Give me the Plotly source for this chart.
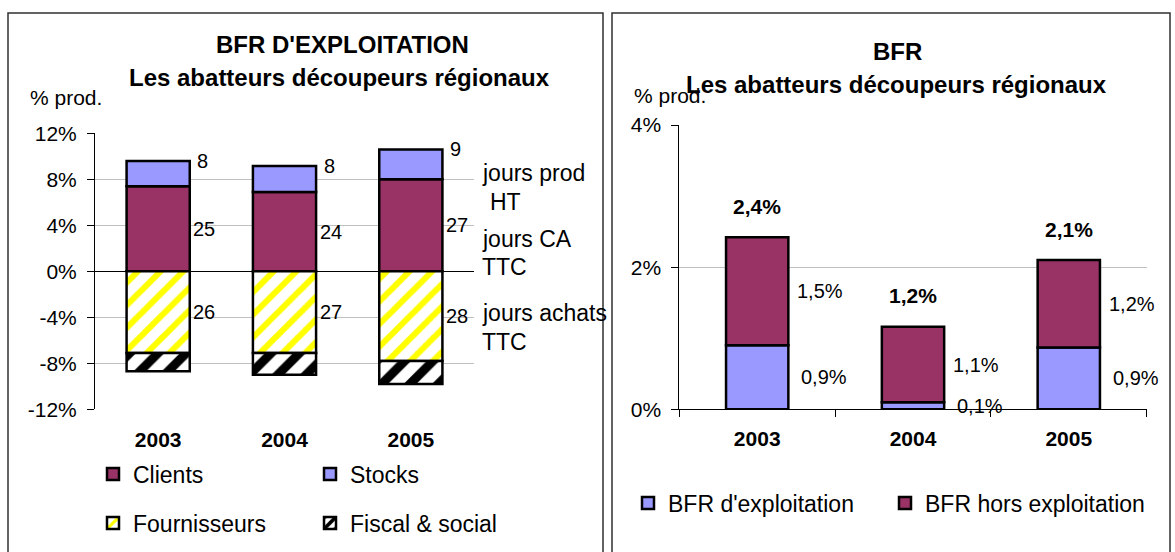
import plotly.graph_objects as go

# ---------------- data ----------------
years = ["2003", "2004", "2005"]

# Left chart: BFR d'exploitation (% of production)
clients = [7.4, 6.9, 8.0]
stocks = [2.2, 2.25, 2.6]
fournisseurs = [-7.1, -7.1, -7.8]
fiscal_social = [-1.6, -1.9, -2.0]

# days labels
jours_stocks = [8, 8, 9]
jours_clients = [25, 24, 27]
jours_fournisseurs = [26, 27, 28]

left_tickvals = [12, 8, 4, 0, -4, -8, -12]
left_ticktext = ["12%", "8%", "4%", "0%", "-4%", "-8%", "-12%"]

# Right chart: BFR (% of production)
bfr_exploitation = [0.9, 0.1, 0.87]
bfr_hors_exploitation = [1.52, 1.06, 1.23]

right_tickvals = [0, 2, 4]
right_ticktext = ["0%", "2%", "4%"]

side_labels = ["jours prod", "HT", "jours CA", "TTC", "jours achats", "TTC"]

# ---------------- style ----------------
W, H = 1175, 552
FONT = "Arial, 'Liberation Sans', sans-serif"
PLUM = "#993366"
LAV = "#9999FF"
YEL = "#FFFF00"
OUT = dict(color="black", width=2.5)
GRID = "#c0c0c0"


def px(x):
    return x / W


def py(y):
    return 1 - y / H


def fmt(v):
    return f"{v:.1f}".replace(".", ",") + "%"


fig = go.Figure()

# ---- left chart bars ----
fig.add_trace(go.Bar(x=years, y=clients, name="Clients", width=0.5,
                     marker=dict(color=PLUM, line=OUT),
                     xaxis="x", yaxis="y", legend="legend"))
fig.add_trace(go.Bar(x=years, y=stocks, name="Stocks", width=0.5,
                     marker=dict(color=LAV, line=OUT),
                     xaxis="x", yaxis="y", legend="legend2"))
fig.add_trace(go.Bar(x=years, y=fournisseurs, name="Fournisseurs", width=0.5,
                     marker=dict(color="white", line=OUT,
                                 pattern=dict(shape="/", fgcolor=YEL, bgcolor="white",
                                              size=16, solidity=0.38)),
                     xaxis="x", yaxis="y", legend="legend3"))
fig.add_trace(go.Bar(x=years, y=fiscal_social, name="Fiscal & social", width=0.5,
                     marker=dict(color="white", line=OUT,
                                 pattern=dict(shape="/", fgcolor="black", bgcolor="white",
                                              size=20, solidity=0.45)),
                     xaxis="x", yaxis="y", legend="legend4"))

# ---- right chart bars ----
fig.add_trace(go.Bar(x=years, y=bfr_exploitation, name="BFR d'exploitation", width=0.4,
                     marker=dict(color=LAV, line=OUT),
                     xaxis="x2", yaxis="y2", legend="legend5"))
fig.add_trace(go.Bar(x=years, y=bfr_hors_exploitation, name="BFR hors exploitation", width=0.4,
                     marker=dict(color=PLUM, line=OUT),
                     xaxis="x2", yaxis="y2", legend="legend6"))

annotations = []
lab_font = dict(family=FONT, size=20, color="black")

# days labels on left chart (x given as category index)
for i in range(len(years)):
    top = clients[i] + stocks[i]
    annotations.append(dict(x=i, y=top, xref="x", yref="y", text=str(jours_stocks[i]),
                            showarrow=False, xanchor="left", yanchor="middle",
                            xshift=37, font=lab_font))
    annotations.append(dict(x=i, y=clients[i] / 2, xref="x", yref="y",
                            text=str(jours_clients[i]), showarrow=False,
                            xanchor="left", yanchor="middle", xshift=33, font=lab_font))
    annotations.append(dict(x=i, y=fournisseurs[i] / 2, xref="x", yref="y",
                            text=str(jours_fournisseurs[i]), showarrow=False,
                            xanchor="left", yanchor="middle", xshift=33, font=lab_font))

# percentage labels on right chart
for i in range(len(years)):
    e = bfr_exploitation[i]
    h = bfr_hors_exploitation[i]
    annotations.append(dict(x=i, y=e / 2, xref="x2", yref="y2", text=fmt(e),
                            showarrow=False, xanchor="left", yanchor="middle",
                            xshift=42, font=lab_font))
    annotations.append(dict(x=i, y=e + h / 2, xref="x2", yref="y2", text=fmt(h),
                            showarrow=False, xanchor="left", yanchor="middle",
                            xshift=38, font=lab_font))
    annotations.append(dict(x=i, y=e + h, xref="x2", yref="y2", text="<b>" + fmt(e + h) + "</b>",
                            showarrow=False, xanchor="center", yanchor="middle",
                            yshift=31, font=dict(family=FONT, size=21, color="black")))

# titles
tfont = dict(family=FONT, size=24, color="black")
annotations += [
    dict(x=px(342), y=py(44), xref="paper", yref="paper", text="<b>BFR D'EXPLOITATION</b>",
         showarrow=False, xanchor="center", yanchor="middle", font=tfont),
    dict(x=px(339), y=py(77), xref="paper", yref="paper",
         text="<b>Les abatteurs découpeurs régionaux</b>",
         showarrow=False, xanchor="center", yanchor="middle", font=tfont),
    dict(x=px(897), y=py(52), xref="paper", yref="paper", text="<b>BFR</b>",
         showarrow=False, xanchor="center", yanchor="middle", font=tfont),
    dict(x=px(896), y=py(84), xref="paper", yref="paper",
         text="<b>Les abatteurs découpeurs régionaux</b>",
         showarrow=False, xanchor="center", yanchor="middle", font=tfont),
    dict(x=px(28), y=py(97), xref="paper", yref="paper", text="% prod.",
         showarrow=False, xanchor="left", yanchor="middle",
         font=dict(family=FONT, size=21, color="black")),
    dict(x=px(632), y=py(95), xref="paper", yref="paper", text="% prod.",
         showarrow=False, xanchor="left", yanchor="middle",
         font=dict(family=FONT, size=21, color="black")),
]

# side labels (left chart)
side_pos = [(480, 173), (488, 202), (480, 239), (480, 267), (480, 313), (480, 342)]
for txt, (sx, sy) in zip(side_labels, side_pos):
    annotations.append(dict(x=px(sx), y=py(sy), xref="paper", yref="paper", text=txt,
                            showarrow=False, xanchor="left", yanchor="middle",
                            font=dict(family=FONT, size=23, color="black")))

# panel frames
shapes = [
    dict(type="rect", xref="paper", yref="paper", x0=px(8), x1=px(603), y0=py(570), y1=py(13),
         line=dict(color="#303030", width=1.5), fillcolor="rgba(0,0,0,0)", layer="below"),
    dict(type="rect", xref="paper", yref="paper", x0=px(612), x1=px(1170), y0=py(570), y1=py(13),
         line=dict(color="#303030", width=1.5), fillcolor="rgba(0,0,0,0)", layer="below"),
]

leg_font = dict(family=FONT, size=23, color="black")


def leg(x, y):
    return dict(x=px(x), y=py(y), xanchor="left", yanchor="middle", xref="paper", yref="paper",
                orientation="h", font=leg_font, bgcolor="rgba(0,0,0,0)", borderwidth=0,
                visible=True)


tick_font = dict(family=FONT, size=21, color="black")
cat_font = dict(family=FONT, size=21, color="black", weight="bold")

fig.update_layout(
    template="none",
    showlegend=True,
    width=W, height=H, autosize=False,
    margin=dict(l=0, r=0, t=0, b=0, autoexpand=False),
    paper_bgcolor="white", plot_bgcolor="white",
    barmode="relative",
    font=dict(family=FONT, color="black"),
    xaxis=dict(domain=[px(95), px(474)], anchor="y", type="category",
               range=[-0.5, 2.5], autorange=False,
               showline=False, ticks="", showgrid=False, tickfont=cat_font,
               ticklabelstandoff=16, fixedrange=True, automargin=False),
    yaxis=dict(domain=[py(409.3), py(133.3)], anchor="x", range=[-12, 12], autorange=False,
               tickvals=left_tickvals, ticktext=left_ticktext, tickfont=tick_font,
               showgrid=True, gridcolor=GRID, gridwidth=1,
               zeroline=True, zerolinecolor="black", zerolinewidth=1,
               showline=True, linecolor="black", linewidth=1,
               ticks="outside", ticklen=7, tickcolor="black", ticklabelstandoff=6,
               fixedrange=True, automargin=False),
    xaxis2=dict(domain=[px(679.3), px(1146.7)], anchor="y2", type="category",
                range=[-0.5, 2.5], autorange=False,
                showline=True, linecolor="black", linewidth=1,
                ticks="outside", tickson="boundaries", ticklen=7, tickcolor="black",
                showgrid=False, tickfont=cat_font, ticklabelstandoff=10, fixedrange=True,
                automargin=False),
    yaxis2=dict(domain=[py(409.3), py(125)], anchor="x2", range=[0, 4], autorange=False,
                tickvals=right_tickvals, ticktext=right_ticktext, tickfont=tick_font,
                showgrid=True, gridcolor=GRID, gridwidth=1, zeroline=False,
                showline=True, linecolor="black", linewidth=1,
                ticks="outside", ticklen=7, tickcolor="black", ticklabelstandoff=6,
                fixedrange=True, automargin=False),
    legend=leg(93, 474),
    legend2=leg(310, 474),
    legend3=leg(93, 523),
    legend4=leg(310, 523),
    legend5=leg(628, 503),
    legend6=leg(885, 503),
    annotations=annotations,
    shapes=shapes,
)

fig.write_html("out.html", config={"displayModeBar": False},
               post_script="document.body.style.margin='0';")
